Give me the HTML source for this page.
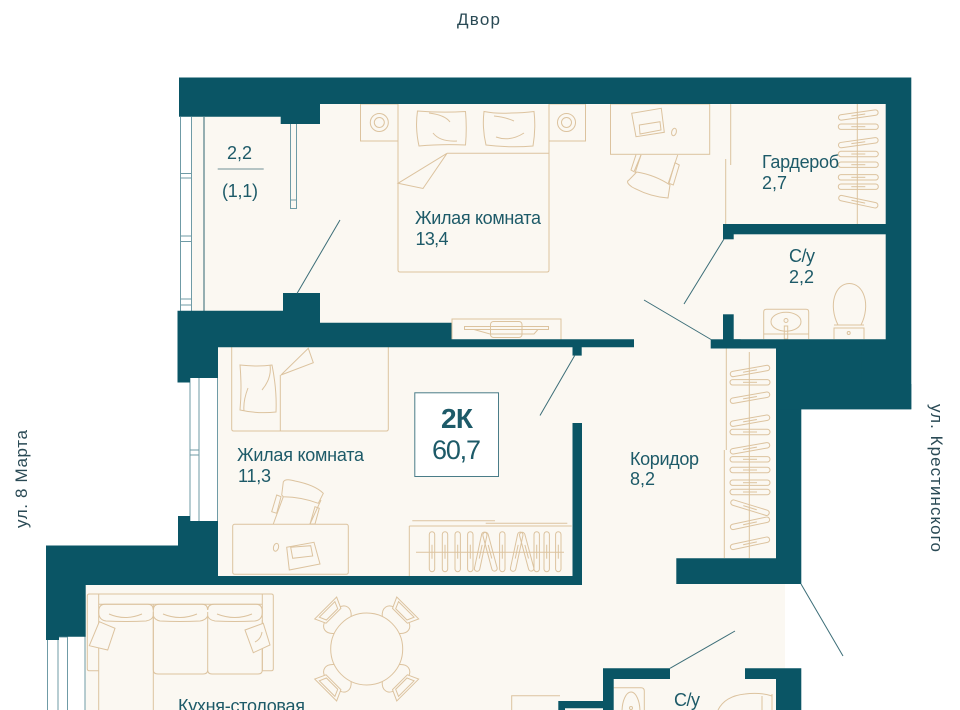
<!DOCTYPE html>
<html><head><meta charset="utf-8"><style>html,body{margin:0;padding:0;background:#fff}svg{display:block}</style></head>
<body>
<svg xmlns="http://www.w3.org/2000/svg" width="960" height="710" viewBox="0 0 960 710">
<defs>
<g id="fh"><rect x="-20" y="-2.7" width="40" height="5.4" rx="2.7"/><path d="M-7 0H7"/></g>
<g id="vh"><rect x="-2.7" y="-20" width="5.4" height="40" rx="2.7"/><path d="M0 -7V7"/></g>
<g id="tc"><path d="M-12,-34 C-19,-40 -17,-47 -10,-49 L10,-49 C17,-47 19,-40 12,-34"/><path d="M-15.500,-58 L15.500,-58 L10.500,-47 L-10.500,-47Z" fill="#fbf8f2"/><path d="M-11,-56 L11,-56 L8,-49 L-8,-49Z"/></g>
</defs>
<rect width="960" height="710" fill="#fff"/>
<!-- cream floors -->
<g fill="#fbf8f2">
<rect x="192" y="100" width="694" height="250"/>
<rect x="218" y="340" width="560" height="370"/>
<rect x="85" y="580" width="700" height="130"/>
<rect x="776" y="345" width="110" height="45"/>
</g>
<!-- white window reveals -->
<rect x="180" y="116" width="12" height="196" fill="#fff"/>
<rect x="178" y="378" width="40" height="144" fill="#fff"/>
<rect x="46" y="636" width="39.500" height="74" fill="#fff"/>
<!-- window lines -->
<g fill="none" stroke="#6f9ba6" stroke-width="1">
<path d="M180.500 117V311M191.500 117V311M180 173.500H192M180 178H192M180 236H192M180 241.500H192M180 299H192M180 305H192"/>
<path d="M190 378V521M199 378V521M217.500 378V521M190 450H199M190 455H199"/>
<path d="M47.500 640V710M58 636V710M67.500 636V710M85 636V710M58 637H67.500"/>
<path d="M290.500 124V208.500H296.500V124M290.500 200H296.500"/>
</g>
<path d="M204 117V311" stroke="#2f6470" stroke-width="1" fill="none"/>
<!-- furniture -->
<g fill="none" stroke="#dcc39f" stroke-width="1">
<!-- bedroom 1 -->
<rect x="360.500" y="104" width="37.500" height="37"/>
<rect x="549" y="104" width="36.500" height="37"/>
<circle cx="379.300" cy="122.500" r="9"/><circle cx="379.300" cy="122.500" r="5"/>
<circle cx="566.500" cy="122.500" r="9"/><circle cx="566.500" cy="122.500" r="5"/>
<path d="M398 104V270Q398 272 400 272H547Q549 272 549 270V104"/>
<path d="M447 153.300H549M398 183.300L447 153.300L423 188.500Z"/>
<path d="M417.500 111Q441 113 465.500 111.500Q467 128 465.500 145Q441 144 419 146Q415 128 417.500 111Z"/>
<path d="M429 113Q445 115 450 122M433 133Q440 142 457 141"/>
<path d="M484 111.500Q497 114 511 113Q523 113 534 111.500Q536 128 533 146Q510 148 486 145Q482 128 484 111.500Z"/>
<path d="M494 116Q505 117 514 121M496 137Q510 142 524 133"/>
<!-- desk top right -->
<rect x="610.500" y="104" width="99.200" height="50.300"/>
<path d="M631.700 113.300L661.300 108.300L664.300 132.300L636 136.700Z"/>
<path d="M639.300 125L660 121.700L661 130L640 134Z"/>
<ellipse cx="674" cy="132" rx="2.300" ry="3.800" transform="rotate(15 674 132)"/>
<path d="M636 154.700L631 170L634 171.700L641 155M675 162.700L679.300 165L673.300 185L669 183.300Z"/>
<path d="M641 155L635 173M677.700 155L668.300 183.300"/>
<path d="M636.700 172Q655 175 670 185L668 198Q650 197 632 187Q625 182 629 180Z"/>
<!-- wardrobe -->
<path d="M730.700 104V165M725.700 159V224M857.300 104V224"/>
<use href="#fh" transform="translate(858.300 115) rotate(-8)"/>
<use href="#fh" transform="translate(858.300 126.700)"/>
<use href="#fh" transform="translate(858.300 142.700) rotate(-8)"/>
<use href="#fh" transform="translate(858.300 154)"/>
<use href="#fh" transform="translate(858.300 164.700)"/>
<use href="#fh" transform="translate(858.300 177.300)"/>
<use href="#fh" transform="translate(858.300 186.700)"/>
<use href="#fh" transform="translate(858.300 201.700) rotate(12)"/>
<!-- wc -->
<path d="M838 325C828 305 835 283.500 849.300 283.500C864 283.500 871 305 861 325Z"/>
<path d="M834 339V328H864V339M834 325H864M834 328H864"/>
<circle cx="848.700" cy="333" r="1.500"/>
<path d="M763.700 339V312Q763.700 309.300 766.500 309.300H806Q808.700 309.300 808.700 312V339M763.700 334H808.700"/>
<ellipse cx="786" cy="321.700" rx="15" ry="9.500"/>
<circle cx="786" cy="320.500" r="2"/>
<rect x="784.300" y="326" width="3.400" height="13"/>
<!-- tv unit -->
<rect x="452" y="319" width="109" height="21" fill="#fbf8f2"/>
<path d="M464.500 326.500H548.500V329.500H464.500ZM474 329.500L490 334H534L538 329.500"/>
<rect x="490.500" y="321.500" width="31.500" height="16" rx="3"/>
<!-- corridor wardrobe -->
<path d="M726.300 348V450M724.300 450V558M749.300 352V558"/>
<use href="#fh" transform="translate(750 371) rotate(-10)"/>
<use href="#fh" transform="translate(750 382.300)"/>
<use href="#fh" transform="translate(750 397.700) rotate(-10)"/>
<use href="#fh" transform="translate(750 420.700) rotate(-10)"/>
<use href="#fh" transform="translate(750 432)"/>
<use href="#fh" transform="translate(750 448.300) rotate(-10)"/>
<use href="#fh" transform="translate(750 459.300)"/>
<use href="#fh" transform="translate(750 470)"/>
<use href="#fh" transform="translate(750 482.700)"/>
<use href="#fh" transform="translate(750 492)"/>
<use href="#fh" transform="translate(750 507.700) rotate(17)"/>
<use href="#fh" transform="translate(750 523.300) rotate(-12)"/>
<use href="#fh" transform="translate(750 543.300) rotate(-12)"/>
<!-- bedroom 2 -->
<path d="M231.700 347V429Q231.700 431 233.700 431H386.300Q388.300 431 388.300 429V347"/>
<path d="M280.300 375V431M281 375L308.300 348.300L313.300 362.700Z"/>
<path d="M240 365Q258 367 272 365Q277 390 276 412Q258 414 240 410Q242 388 240 365Z"/>
<path d="M248 395Q243 408 244 418M270 372Q272 385 262 397" transform="translate(0 -7)"/>
<rect x="232.700" y="524.300" width="115.600" height="50" rx="2"/>
<path d="M286.700 547.300L314 542.300L320 564L289.300 570Z"/>
<path d="M290.700 547.300L310.700 545.700L312.700 556L292.700 558.300Z"/>
<ellipse cx="276" cy="547.300" rx="2.500" ry="4" transform="rotate(15 276 547.300)"/>
<path d="M276.700 495L281 496.700L276.700 513.300L271.700 511.700ZM315 506.700L319.300 508.300L315 524L310 524Z"/>
<path d="M283.300 496.700L273.300 524M321 500L310 524"/>
<path d="M281.700 495L283.300 482Q285 478 295 481Q315 485 323.300 493.300L318.300 503.300Q302 497 283.300 496.700Z"/>
<path d="M412.300 520.700H495M485.700 523.300H567.300M409.300 526H571.700M409.300 526V576M416 552.300H564"/>
<use href="#vh" transform="translate(432 551.700)"/>
<use href="#vh" transform="translate(445 551.700)"/>
<use href="#vh" transform="translate(457.700 551.700)"/>
<use href="#vh" transform="translate(470.300 551.700)"/>
<use href="#vh" transform="translate(480.700 551.700) rotate(12)"/>
<use href="#vh" transform="translate(490 551.700) rotate(-15)"/>
<use href="#vh" transform="translate(502.300 551.700)"/>
<use href="#vh" transform="translate(516.700 551.700) rotate(12)"/>
<use href="#vh" transform="translate(526.700 551.700) rotate(-15)"/>
<use href="#vh" transform="translate(536.700 551.700)"/>
<use href="#vh" transform="translate(546.700 551.700)"/>
<use href="#vh" transform="translate(558.300 551.700)"/>
<!-- sofa -->
<path d="M98.700 670.700H89.300Q87.300 670.700 87.300 668.700V596Q87.300 594 89.300 594H271.300Q273.300 594 273.300 596V668.700Q273.300 670.700 271.300 670.700H262.300"/>
<path d="M98.700 594V710M262.300 594V670.700M98.700 604.300H262.300M153.300 604.300V710"/>
<path d="M98.700 612Q98.700 604.300 105 604.300H148Q153 604.300 153.300 610Q153.500 604.300 159 604.300H202Q207.500 604.300 207.700 610Q208 604.300 214 604.300H256Q262.300 604.300 262.300 612Q262.300 620 255 621Q235 622 215 621Q209 620 207.700 616Q206 620 200 621Q180 622 160 621Q155 620 153.300 616Q152 620 146 621Q125 622 106 621Q98.700 620 98.700 612"/>
<path d="M153.300 612V670Q153.300 674 158 674H203Q207.700 674 207.700 670V612M207.700 670Q207.700 674 212 674H258Q262.300 674 262.300 670V620"/>
<path d="M109 614Q125 621 142 614M163 614Q180 621 197 614M217 614Q235 621 252 614"/>
<path d="M99.300 621.700L115 628.300L107.700 650L89.300 645.700Z" fill="#fbf8f2"/>
<path d="M245 630L263.300 623.300L270 645L253.300 652.700Z" fill="#fbf8f2"/>
<path d="M255 642Q261 639 262 632"/>
<!-- table -->
<g transform="translate(366.700 649)">
<use href="#tc" transform="rotate(-45)"/><use href="#tc" transform="rotate(45)"/><use href="#tc" transform="rotate(135)"/><use href="#tc" transform="rotate(-135)"/>
<circle r="36" fill="#fbf8f2"/>
</g>
<!-- lower items -->
<path d="M511.700 710V695.700H560"/>
<path d="M613.700 687.700H641Q644.300 687.700 644.300 691V710"/>
<ellipse cx="631" cy="712" rx="9" ry="20"/>
<circle cx="631" cy="708" r="1.500"/>
<path d="M718 710Q725 696 745 694Q760 692 772 696V710M772 694V710M762 696V710"/>
</g>
<!-- walls -->
<g fill="#0a5565">
<path d="M179 77.500H911.300V409.300H801.300V584H676.300V558.300H776V348.500H723V339.300H885.700V104H320V124H280.700V116.700H179Z"/>
<rect x="723" y="224" width="165" height="10.300"/>
<rect x="723" y="224" width="10.700" height="15.300"/>
<rect x="723" y="314.300" width="10.700" height="30"/>
<rect x="710.700" y="339.300" width="30" height="9.200"/>
<rect x="851" y="345" width="10.700" height="40"/>
<rect x="776" y="384" width="135.300" height="25.300"/>
<path d="M177.500 310.700H283V293H320V322.700H451.500V339.300H634V347.300H218V378H190V382.500H177.500Z"/>
<path d="M178 516H190V521H218V576H572.500V423H582V585H85.700V636.700H59V640H46V545.500H178Z"/>
<rect x="572.500" y="347" width="9.200" height="8.600"/>
<path d="M603 710V668.300H670V679H613.700V710Z"/>
<path d="M745 668.300H801.300V710H776V679H745Z"/>
<path d="M558.300 710V701H603V708.300H565V710Z"/>
</g>
<!-- door lines -->
<g stroke="#3c6e78" stroke-width="1" fill="none">
<path d="M340 220L297 293.500M644 300L711 339.500M724 239L684 304M575 355L540 415.500M801 584L843 656M735 631L670 668.300"/>
</g>
<path d="M217.700 169H263.700" stroke="#6f8f97" stroke-width="1"/>
<!-- 2K box -->
<rect x="414.800" y="392.800" width="83.700" height="83.700" fill="#fff" stroke="#4a7c88" stroke-width="1"/>
<!-- texts -->
<g font-family="'Liberation Sans',sans-serif" fill="#1d5a68" font-size="18">
<text x="415" y="224" textLength="126">Жилая комната</text>
<text x="415.500" y="245" textLength="33">13,4</text>
<text x="762" y="168" textLength="77">Гардероб</text>
<text x="762" y="189" textLength="25">2,7</text>
<text x="789" y="262" textLength="26">С/у</text>
<text x="789" y="283" textLength="25">2,2</text>
<text x="237" y="461" textLength="127">Жилая комната</text>
<text x="238" y="482" textLength="33">11,3</text>
<text x="630" y="465" textLength="69">Коридор</text>
<text x="630" y="485" textLength="25">8,2</text>
<text x="227" y="159" textLength="25">2,2</text>
<text x="222" y="197" textLength="36">(1,1)</text>
<text x="178" y="712" textLength="127">Кухня-столовая</text>
<text x="674" y="706" textLength="26">С/у</text>
<text x="441" y="428" font-size="28" font-weight="bold" textLength="32">2К</text>
<text x="432" y="459" font-size="27" textLength="49">60,7</text>
</g>
<g font-family="'Liberation Sans',sans-serif" fill="#2a4a55" font-size="17">
<text x="457" y="25" textLength="43">Двор</text>
<text transform="translate(27 528) rotate(-90)" textLength="98">ул. 8 Марта</text>
<text transform="translate(931 404) rotate(90)" textLength="148">ул. Крестинского</text>
</g>
</svg>
</body></html>
